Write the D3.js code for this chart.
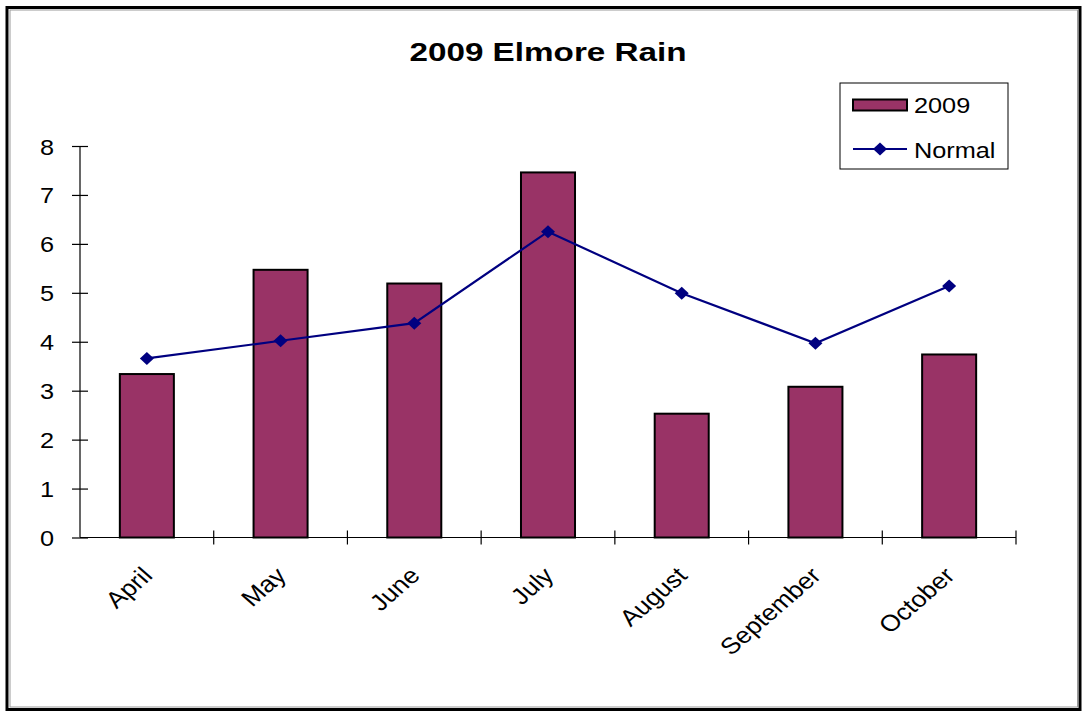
<!DOCTYPE html>
<html>
<head>
<meta charset="utf-8">
<script src="https://cdn.jsdelivr.net/npm/d3@7/dist/d3.min.js"></script>
<style>
  html, body { margin: 0; padding: 0; background: #fff; }
  svg { display: block; font-family: "Liberation Sans", Arial, sans-serif; }
</style>
</head>
<body>
<svg id="chart" width="1086" height="713"></svg>
<script>
// Monthly rainfall (inches), 2009 vs. normal
const months = ["April", "May", "June", "July", "August", "September", "October"];
const rain2009 = [3.34, 5.47, 5.19, 7.46, 2.53, 3.08, 3.74];
const rainNormal = [3.66, 4.02, 4.38, 6.25, 4.99, 3.97, 5.14];
const yTicks = [0, 1, 2, 3, 4, 5, 6, 7, 8];
const seriesNames = ["2009", "Normal"];

const plot = { left: 80, right: 1016, top: 146, bottom: 537.5 };
const barColor = "#993366";
const lineColor = "#000080";
const sx = 1.15;     // horizontal text stretch
const fs = 22;       // label font size

const svg = d3.select("#chart");

// outer frame
svg.append("rect").attr("x", 7).attr("y", 7.5).attr("width", 1073).attr("height", 702)
  .attr("fill", "#fff").attr("stroke", "#000").attr("stroke-width", 3);
svg.append("rect").attr("x", 10).attr("y", 10).attr("width", 1067.5).attr("height", 697)
  .attr("fill", "none").attr("stroke", "#9a9a9a").attr("stroke-width", 1);

const x = d3.scaleBand().domain(months).range([plot.left, plot.right]).padding(0);
const y = d3.scaleLinear().domain([0, 8]).range([plot.bottom, plot.top]);
const barW = x.bandwidth() * 0.404;

// title
svg.append("text")
  .attr("transform", `translate(${(plot.left + plot.right) / 2},61) scale(1.33,1)`)
  .attr("text-anchor", "middle")
  .attr("font-weight", "bold").attr("font-size", 25)
  .text("2009 Elmore Rain");

// y axis with crossing ticks
const yAxis = svg.append("g").attr("transform", `translate(${plot.left},0)`)
  .call(d3.axisLeft(y).tickValues(yTicks).tickFormat(d3.format("d")).tickSize(8).tickPadding(0));
yAxis.select(".domain").remove();
yAxis.append("line").attr("x1", 0).attr("x2", 0).attr("y1", y(8)).attr("y2", y(0))
  .attr("stroke", "#000").attr("stroke-width", 1.2);
yAxis.selectAll(".tick line").attr("x1", -8).attr("x2", 8).attr("stroke", "#000").attr("stroke-width", 1.2);
yAxis.selectAll(".tick text")
  .attr("x", null).attr("dy", null)
  .attr("transform", `translate(-26,8) scale(${sx},1)`)
  .attr("font-size", fs).attr("fill", "#000")
  .attr("font-family", "Liberation Sans, Arial, sans-serif");

// x axis baseline and category boundary ticks
svg.append("line").attr("x1", plot.left).attr("x2", plot.right)
  .attr("y1", y(0)).attr("y2", y(0)).attr("stroke", "#000").attr("stroke-width", 1.2);
const bounds = months.slice(1).map(m => x(m)).concat([plot.right]);
svg.selectAll(".xtick").data(bounds).enter().append("line")
  .attr("x1", d => d).attr("x2", d => d)
  .attr("y1", y(0) - 7).attr("y2", y(0) + 7)
  .attr("stroke", "#000").attr("stroke-width", 1.2);

// category labels, rotated
svg.selectAll(".xlab").data(months).enter().append("text")
  .attr("transform", d => `translate(${x(d) + x.bandwidth() / 2 + 7},577) scale(${sx},1) rotate(-45)`)
  .attr("text-anchor", "end").attr("font-size", 23)
  .text(d => d);

// bars
svg.selectAll(".bar").data(months).enter().append("rect")
  .attr("x", d => x(d) + (x.bandwidth() - barW) / 2)
  .attr("y", (d, i) => y(rain2009[i]))
  .attr("width", barW)
  .attr("height", (d, i) => y(0) - y(rain2009[i]))
  .attr("fill", barColor).attr("stroke", "#000").attr("stroke-width", 2);

// normal line
const cx = d => x(d) + x.bandwidth() / 2;
const line = d3.line().x(d => cx(d[0])).y(d => y(d[1]));
svg.append("path").datum(months.map((m, i) => [m, rainNormal[i]]))
  .attr("d", line).attr("fill", "none").attr("stroke", lineColor).attr("stroke-width", 2.2);

// diamond markers
const diamond = "M0,-6.5L7,0L0,6.5L-7,0Z";
svg.selectAll(".pt").data(months).enter().append("path")
  .attr("d", diamond)
  .attr("transform", (d, i) => `translate(${cx(d)},${y(rainNormal[i])})`)
  .attr("fill", lineColor);

// legend
const lg = svg.append("g");
lg.append("rect").attr("x", 840).attr("y", 83).attr("width", 168).attr("height", 86)
  .attr("fill", "#fff").attr("stroke", "#000").attr("stroke-width", 1);
lg.append("rect").attr("x", 853).attr("y", 99.5).attr("width", 54).attr("height", 11)
  .attr("fill", barColor).attr("stroke", "#000").attr("stroke-width", 2);
lg.append("line").attr("x1", 853).attr("x2", 907).attr("y1", 149).attr("y2", 149)
  .attr("stroke", lineColor).attr("stroke-width", 2.2);
lg.append("path").attr("d", diamond).attr("transform", "translate(880,149)")
  .attr("fill", lineColor);
lg.selectAll(".lt").data(seriesNames).enter().append("text")
  .attr("transform", (d, i) => `translate(914,${113 + i * 45}) scale(${sx},1)`)
  .attr("font-size", fs)
  .text(d => d);
</script>
</body>
</html>
